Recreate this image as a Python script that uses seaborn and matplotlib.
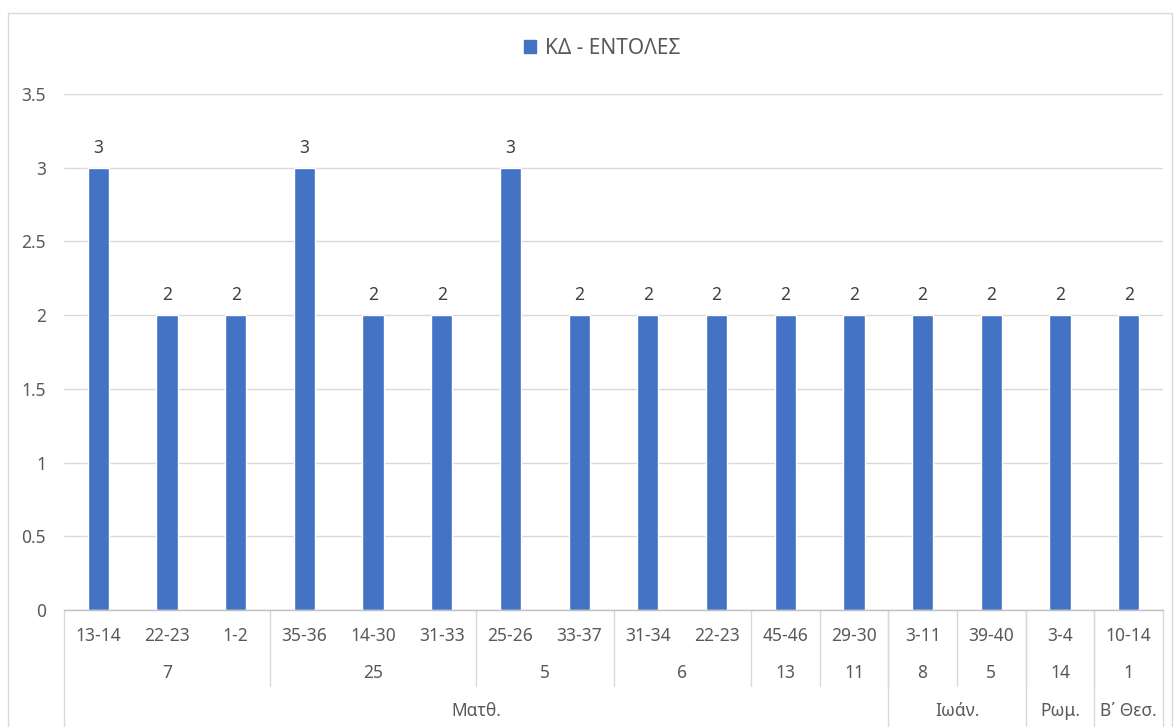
import numpy as np
import pandas as pd
import matplotlib
matplotlib.use("Agg")
import matplotlib.pyplot as plt
from matplotlib.patches import Patch
from matplotlib.lines import Line2D
import seaborn as sns

books = ["Ματθ."] * 12 + ["Ιωάν."] * 2 + ["Ρωμ."] + ["Β΄ Θεσ."]
chapters = ["7", "7", "7", "25", "25", "25", "5", "5", "6", "6", "13", "11", "8", "5", "14", "1"]
verses = ["13-14", "22-23", "1-2", "35-36", "14-30", "31-33", "25-26", "33-37",
          "31-34", "22-23", "45-46", "29-30", "3-11", "39-40", "3-4", "10-14"]
values = [3, 2, 2, 3, 2, 2, 3, 2, 2, 2, 2, 2, 2, 2, 2, 2]
series_name = "ΚΔ - ΕΝΤΟΛΕΣ"
yticks = [0, 0.5, 1, 1.5, 2, 2.5, 3, 3.5]

sns.set_theme(style="white")
plt.rcParams["font.family"] = ["Noto Sans", "DejaVu Sans"]

BAR = "#4472C4"
TXT = "#595959"
GRID = "#D9D9D9"
FS = 12.5

df = pd.DataFrame({"pos": np.arange(len(values)), "value": values,
                   "verse": verses, "chapter": chapters, "book": books})

W, H = 1174, 727
fig = plt.figure(figsize=(W / 100, H / 100), dpi=100)
ax = fig.add_axes([64 / W, (H - 610) / H, (1163 - 64) / W, (610 - 94) / H])

sns.barplot(data=df, x="pos", y="value", color=BAR, width=0.31, ax=ax,
            saturation=1, errorbar=None)

ax.set_xlim(-0.5, len(values) - 0.5)
ax.set_ylim(0, 3.5)
ax.set_yticks(yticks)
ax.set_yticklabels([f"{t:g}" for t in yticks], color=TXT, fontsize=FS)
ax.tick_params(axis="y", length=0, pad=13)
ax.set_xticks([])
ax.set_xlabel("")
ax.set_ylabel("")
for s in ["top", "right", "left"]:
    ax.spines[s].set_visible(False)
ax.spines["bottom"].set_color("#BFBFBF")
ax.spines["bottom"].set_linewidth(1)
ax.set_axisbelow(True)
ax.yaxis.grid(True, color=GRID, linewidth=1)
ax.xaxis.grid(False)

# data labels
for c in ax.containers:
    ax.bar_label(c, labels=[f"{v:g}" for v in values], padding=8,
                 color="#404040", fontsize=FS)

trans = ax.get_xaxis_transform()
ah = 516.0
def yf(px):
    return -(px - 610) / ah

for i, v in enumerate(verses):
    ax.text(i, yf(636), v, transform=trans, ha="center", va="center",
            color=TXT, fontsize=FS, clip_on=False)

ch_groups = []
start = 0
for i in range(1, len(chapters) + 1):
    if i == len(chapters) or chapters[i] != chapters[start] or books[i] != books[start]:
        ch_groups.append((start, i - 1, chapters[start]))
        start = i
for a, b, lab in ch_groups:
    ax.text((a + b) / 2, yf(673), lab, transform=trans, ha="center", va="center",
            color=TXT, fontsize=FS, clip_on=False)

bk_groups = []
start = 0
for i in range(1, len(books) + 1):
    if i == len(books) or books[i] != books[start]:
        bk_groups.append((start, i - 1, books[start]))
        start = i
for a, b, lab in bk_groups:
    ax.text((a + b) / 2, yf(711), lab, transform=trans, ha="center", va="center",
            color=TXT, fontsize=FS, clip_on=False)

# separators
LINE = "#D9D9D9"
for a, b, lab in ch_groups[:-1]:
    x = b + 0.5
    ax.add_line(Line2D([x, x], [0, yf(686)], transform=trans, color=LINE,
                       lw=1, clip_on=False))
edges = [-0.5] + [b + 0.5 for a, b, lab in bk_groups]
for x in edges:
    ax.add_line(Line2D([x, x], [0, yf(740)], transform=trans, color=LINE,
                       lw=1, clip_on=False))

# legend
handle = Patch(facecolor=BAR, edgecolor=BAR)
fig.legend([handle], [series_name], loc="center", bbox_to_anchor=(602 / W, 1 - 48 / H),
           frameon=False, fontsize=15, labelcolor=TXT, handlelength=0.6,
           handleheight=0.6, handletextpad=0.4)

# chart border
bc = "#D9D9D9"
fig.add_artist(Line2D([8 / W, 8 / W], [0, 1 - 13 / H], color=bc, lw=1))
fig.add_artist(Line2D([8 / W, 1172 / W], [1 - 13 / H, 1 - 13 / H], color=bc, lw=1))
fig.add_artist(Line2D([1172 / W, 1172 / W], [0, 1 - 13 / H], color=bc, lw=1))

fig.savefig("out.png", dpi=100, facecolor="white")
